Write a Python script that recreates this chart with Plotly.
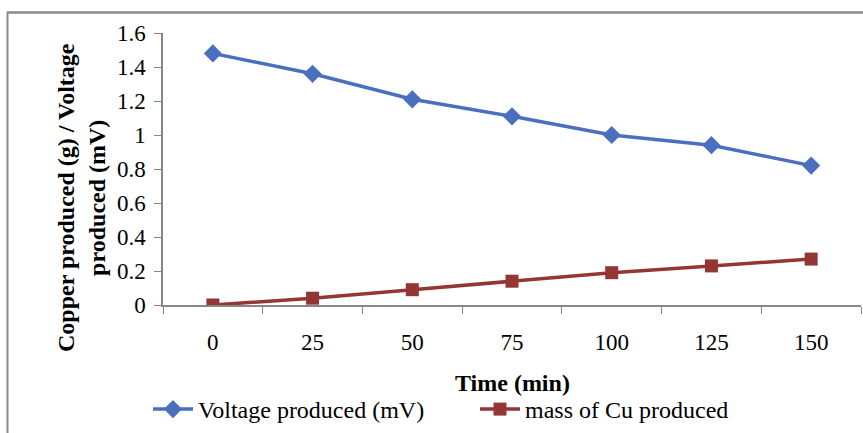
import plotly.graph_objects as go

time_min = ["0", "25", "50", "75", "100", "125", "150"]
voltage_mv = [1.48, 1.36, 1.21, 1.11, 1.00, 0.94, 0.82]
mass_cu_g = [0.00, 0.04, 0.09, 0.14, 0.19, 0.23, 0.27]

FONT = "Liberation Serif, Times New Roman, serif"
L, R, T, B = 163, 2, 33, 128
W, H = 863, 433
pw, ph = W - L - R, H - T - B

def px(x):
    return (x - L) / pw

def py(y):
    return (H - B - y) / ph

fig = go.Figure()
fig.add_trace(go.Scatter(
    x=time_min, y=voltage_mv, mode="lines+markers", name="Voltage produced (mV)",
    line=dict(color="#4A6FBF", width=3.5),
    marker=dict(symbol="diamond", size=14, color="#4A6FBF"),
))
fig.add_trace(go.Scatter(
    x=time_min, y=mass_cu_g, mode="lines+markers", name="mass of Cu produced",
    line=dict(color="#943634", width=3.5),
    marker=dict(symbol="square", size=13, color="#943634"),
))

fig.update_layout(
    width=W, height=H,
    margin=dict(l=L, r=R, t=T, b=B, autoexpand=False),
    paper_bgcolor="white", plot_bgcolor="white",
    font=dict(family=FONT, size=23, color="black"),
    showlegend=True,
    legend=dict(orientation="h", x=px(148), xanchor="left", y=py(387), yanchor="top",
                font=dict(family=FONT, size=24), entrywidth=272, itemwidth=40,
                bgcolor="rgba(0,0,0,0)"),
    xaxis=dict(type="category", tickson="boundaries", ticks="outside", ticklen=7,
               range=[-0.5, 6.5], autorange=False, automargin=False,
               tickcolor="#878787", showline=True, linecolor="#878787", linewidth=1.5,
               showgrid=False, zeroline=False, tickfont=dict(family=FONT, size=23),
               ticklabelstandoff=16),
    yaxis=dict(range=[0, 1.6], autorange=False, automargin=False, dtick=0.2, ticks="outside",
               ticklen=7, tickcolor="#878787",
               showline=True, linecolor="#878787", linewidth=1.5, showgrid=False,
               zeroline=False, tickfont=dict(family=FONT, size=23),
               tickformat="~g", ticklabelstandoff=4),
    annotations=[
        dict(text="<b>Copper produced (g) / Voltage<br>produced (mV)</b>", textangle=-90,
             xref="paper", yref="paper", x=px(81), y=py(198), xanchor="center", yanchor="middle",
             showarrow=False, font=dict(family=FONT, size=24, color="black")),
        dict(text="<b>Time (min)</b>", xref="paper", yref="paper", x=px(512), y=py(383),
             xanchor="center", yanchor="middle", showarrow=False,
             font=dict(family=FONT, size=24, color="black")),
    ],
    shapes=[
        dict(type="line", xref="paper", yref="paper", x0=px(7), x1=px(W + 5), y0=py(12.5), y1=py(12.5),
             line=dict(color="#8a8a8a", width=2.5)),
        dict(type="line", xref="paper", yref="paper", x0=px(7.5), x1=px(7.5), y0=py(12), y1=py(H + 5),
             line=dict(color="#8a8a8a", width=2)),
    ],
)

fig.write_html("out.html")
